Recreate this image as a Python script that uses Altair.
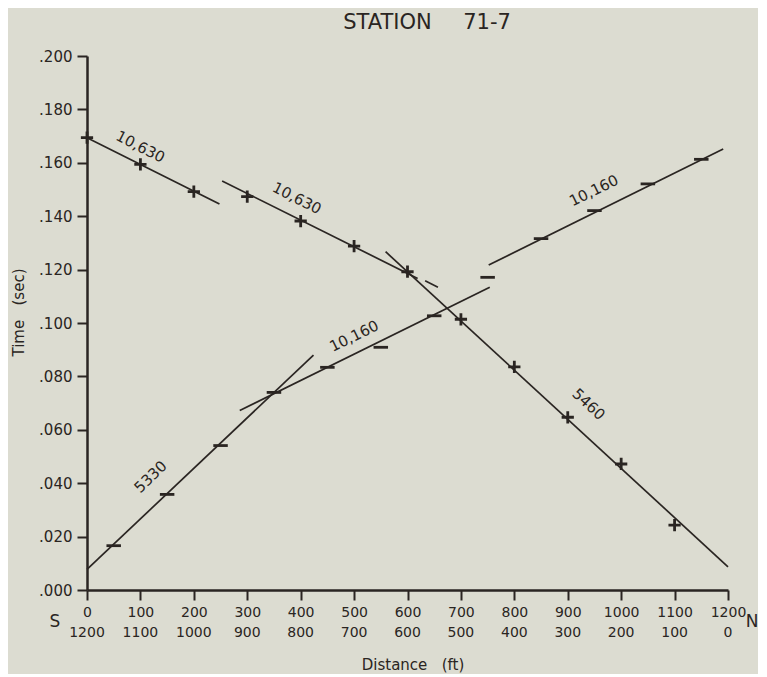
import altair as alt
import pandas as pd

# ---- data ----
# first arrivals, shot at S end (plus markers)
s_dist = [0, 100, 200, 300, 400, 500, 600, 700, 800, 900, 1000, 1100]
s_time = [0.1694, 0.1594, 0.1492, 0.1473, 0.1382, 0.1288, 0.1192, 0.1014, 0.0836, 0.0647, 0.0472, 0.0243]
# first arrivals, shot at N end (dash markers)
n_dist = [50, 150, 250, 350, 450, 550, 650, 750, 850, 950, 1050, 1150]
n_time = [0.0166, 0.0358, 0.0541, 0.0740, 0.0834, 0.0909, 0.1027, 0.1171, 0.1316, 0.1421, 0.1521, 0.1613]

# fitted velocity segments (distance ft, time sec)
seg_x0 = [0, 253, 633, 559, 286, 752, 0]
seg_t0 = [0.1694, 0.1532, 0.1158, 0.1267, 0.0672, 0.1217, 0.0077]
seg_x1 = [248, 619, 657, 1200, 754, 1191, 424]
seg_t1 = [0.1446, 0.1167, 0.1134, 0.0087, 0.1134, 0.1652, 0.0880]

# velocity labels (ft/sec)
lab_text = ["10,630", "10,630", "10,160", "10,160", "5330", "5460"]
lab_x = [100, 393, 949, 500, 119, 939]
lab_t = [0.1660, 0.1467, 0.1496, 0.0951, 0.0424, 0.0695]
lab_ang = [27, 27, 334, 334, 316, 43]

# axes
x_ticks = [0, 100, 200, 300, 400, 500, 600, 700, 800, 900, 1000, 1100, 1200]
x_ticks_rev = [1200, 1100, 1000, 900, 800, 700, 600, 500, 400, 300, 200, 100, 0]
y_ticks = [0.0, 0.02, 0.04, 0.06, 0.08, 0.10, 0.12, 0.14, 0.16, 0.18, 0.20]

NB = "\u00a0"
title_text = ["STATION" + "\u2003\u2002" + "71-7"]

INK = "#2a2522"
BG = "#dcdcd1"
FONT = "DejaVu Sans"
W, H = 641, 534

xs = alt.Scale(domain=[0, 1200], nice=False, zero=False)
ys = alt.Scale(domain=[0, 0.2], nice=False, zero=False)

s_df = pd.DataFrame({"x": s_dist, "t": s_time})
n_df = pd.DataFrame({"x": n_dist, "t": n_time})
seg_df = pd.DataFrame({"x": seg_x0, "t": seg_t0, "x1": seg_x1, "t1": seg_t1})
lab_df = pd.DataFrame({"txt": lab_text, "x": lab_x, "t": lab_t, "ang": lab_ang})
row2_df = pd.DataFrame({"x": x_ticks, "lab": [str(v) for v in x_ticks_rev]})
end_df = pd.DataFrame({"lab": ["S"]})
end_df2 = pd.DataFrame({"lab": ["N"]})
title_df = pd.DataFrame({"lab": title_text})

x_axis = alt.Axis(
    values=x_ticks, format="d", title="Distance" + NB * 3 + "(ft)", grid=False,
    labelFont=FONT, labelFontSize=14, labelColor=INK, labelPadding=5,
    labelFlush=False, labelOverlap=False,
    tickSize=10, tickWidth=2, tickColor=INK,
    domainWidth=2.5, domainColor=INK,
    titleFont=FONT, titleFontSize=15, titleFontWeight="normal", titleColor=INK,
    titleX=W / 2 + 5, titleY=74, titleBaseline="middle",
)
y_axis = alt.Axis(
    values=y_ticks, title="Time" + NB * 3 + "(sec)", grid=False,
    labelExpr="substring(format(datum.value, '.3f'), 1)",
    labelFont=FONT, labelFontSize=15, labelColor=INK, labelPadding=5,
    labelFlush=False, labelOverlap=False,
    tickSize=10, tickWidth=2, tickColor=INK,
    domainWidth=2.5, domainColor=INK,
    titleFont=FONT, titleFontSize=15, titleFontWeight="normal", titleColor=INK,
    titleX=-69, titleY=256, titleBaseline="middle", titleAngle=270,
)

X = alt.X("x:Q", scale=xs, axis=x_axis)
Y = alt.Y("t:Q", scale=ys, axis=y_axis)

plus_path = "M-1,0L1,0M0,-1L0,1"
dash_path = "M-1,0L1,0"

plus = alt.Chart(s_df).mark_point(
    shape=plus_path, size=150, filled=False, strokeWidth=2.8, color=INK, opacity=1
).encode(x=X, y=Y)

dash = alt.Chart(n_df).mark_point(
    shape=dash_path, size=210, filled=False, strokeWidth=2.8, color=INK, opacity=1
).encode(x=X, y=Y)

segs = alt.Chart(seg_df).mark_rule(color=INK, strokeWidth=1.7).encode(
    x=X, y=Y, x2="x1:Q", y2="t1:Q",
)

labels = alt.Chart(lab_df).mark_text(
    font=FONT, fontSize=15, color=INK, align="center", baseline="middle"
).encode(
    x=X, y=Y,
    text="txt:N",
    angle=alt.Angle("ang:Q", scale=None),
)

row2 = alt.Chart(row2_df).mark_text(
    font=FONT, fontSize=14, color=INK, align="center", baseline="middle"
).encode(
    x=X,
    y=alt.value(H + 43),
    text="lab:N",
)

s_lab = alt.Chart(end_df).mark_text(
    font=FONT, fontSize=17, color=INK, align="center", baseline="middle"
).encode(x=alt.value(-32), y=alt.value(H + 32), text="lab:N")

n_lab = alt.Chart(end_df2).mark_text(
    font=FONT, fontSize=17, color=INK, align="center", baseline="middle"
).encode(x=alt.value(665), y=alt.value(H + 32), text="lab:N")

title = alt.Chart(title_df).mark_text(
    font=FONT, fontSize=21, color=INK, align="center", baseline="alphabetic"
).encode(x=alt.value(340), y=alt.value(-27), text="lab:N")

chart = alt.layer(plus, segs, dash, labels, row2, s_lab, n_lab, title).properties(
    width=W, height=H,
    autosize="none",
    padding={"left": 79, "top": 48, "right": 30, "bottom": 84},
    background=BG,
).configure_view(stroke=None)

chart.save("out.html", embed_options={"renderer": "svg", "actions": False})
